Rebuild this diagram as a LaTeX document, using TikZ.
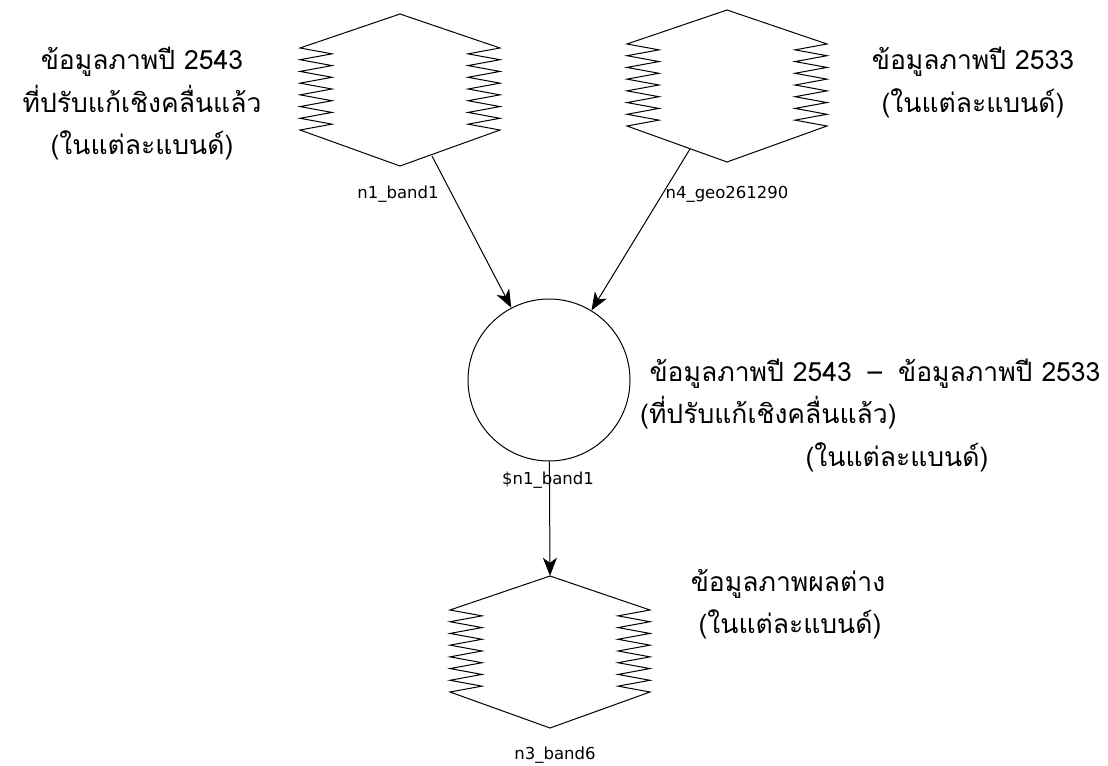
\documentclass[tikz,border=0pt]{standalone}
\usepackage{fontspec}
\usetikzlibrary{arrows.meta}
\newfontfamily\thai[Script=Thai]{Loma}
\newfontfamily\tagfont{DejaVu Sans}

\tikzset{
  raster/.style={draw=none, minimum width=200bp, minimum height=152bp, inner sep=0pt},
  opnode/.style={draw, circle, minimum size=162bp, inner sep=0pt, line width=1bp},
  outline/.style={line width=1bp, line join=miter},
  flow/.style={line width=1bp, -{Stealth[length=18bp, width=14bp, inset=5bp]}},
  tagtext/.style={font=\tagfont\fontsize{16.5bp}{18bp}\selectfont, inner sep=0pt},
  note/.style={font=\thai\fontsize{26.5bp}{30bp}\selectfont, inner sep=0pt, anchor=base},
}

% raster layer symbol: pointed top and bottom, zigzag sides
\newcommand\rasteroutline[1]{%
  \begin{scope}[shift={(#1.center)}]
    \draw[outline] (0,-76) -- (-100,-42)
      \foreach \k in {1,...,7}{ -- ++(32,5.857) -- ++(-32,5.857)}
      -- (0,76) -- (100,40)
      \foreach \k in {1,...,7}{ -- ++(-32,-5.857) -- ++(32,-5.857)}
      -- cycle;
  \end{scope}}

\begin{document}
\begin{tikzpicture}[x=1bp, y=-1bp]
  \useasboundingbox (0,0) rectangle (1108,766);

  % layers and the difference operator
  \node[raster] (n1) at (400,90) {};
  \node[raster] (n4) at (727,86) {};
  \node[raster] (n3) at (550,652) {};
  \node[opnode] (op) at (549,380) {};
  \rasteroutline{n1}
  \rasteroutline{n4}
  \rasteroutline{n3}

  % layer names
  \node[tagtext] (t1) at (398,194) {n1\_band1};
  \node[tagtext] (t4) at (727,194) {n4\_geo261290};
  \node[tagtext] (top) at (548,480) {\$n1\_band1};
  \node[tagtext] (t3) at (555,755) {n3\_band6};

  % connectors
  \coordinate (n1out) at ([shift={(32,66)}]n1.center);
  \coordinate (n4out) at ([shift={(-37,63)}]n4.center);
  \draw[flow] (n1out) -- (op);
  \draw[flow] (n4out) -- (op);
  \draw[flow] (op) -- (n3.north);

  % descriptions
  \node[note] (a1) at (142,70) {ข้อมูลภาพปี 2543};
  \node[note] (a2) at (142,112) {ที่ปรับแก้เชิงคลื่นแล้ว};
  \node[note] (a3) at (142,154) {(ในแต่ละแบนด์)};

  \node[note] (b1) at (973,70) {ข้อมูลภาพปี 2533};
  \node[note] (b2) at (973,112) {(ในแต่ละแบนด์)};

  \node[note] (c1) at (875,381) {ข้อมูลภาพปี 2543\hspace{0.6em}–\hspace{0.6em}ข้อมูลภาพปี 2533};
  \node[note, anchor=base west] (c2) at (640,423) {(ที่ปรับแก้เชิงคลื่นแล้ว)};
  \node[note] (c3) at (897,466) {(ในแต่ละแบนด์)};

  \node[note] (d1) at (788,591) {ข้อมูลภาพผลต่าง};
  \node[note] (d2) at (790,633) {(ในแต่ละแบนด์)};
\end{tikzpicture}
\end{document}
